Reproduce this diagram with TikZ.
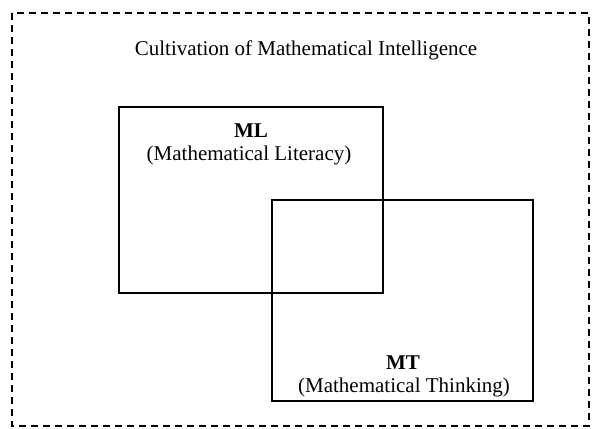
\documentclass[tikz,border=0pt]{standalone}
\usepackage{fontspec}
\setmainfont{Liberation Serif}
\usetikzlibrary{positioning}

\begin{document}
\begin{tikzpicture}[x=1pt, y=-1pt,
    area/.style={draw, line width=1.5pt, inner sep=0pt},
    every node/.style={font=\fontsize{21}{24}\selectfont}]
  \useasboundingbox (0,0) rectangle (593,428);
  % outer frame
  \draw[line width=1.6pt, dash pattern=on 7pt off 5pt] (12,13) rectangle (589,426);
  \node (title) at (306,50) {Cultivation of Mathematical Intelligence};
  % the two overlapping areas
  \node[area, minimum width=264pt, minimum height=186pt] (ml) at (251,200) {};
  \node[area, minimum width=261pt, minimum height=201pt] (mt) at (402.5,300.5) {};
  \node[font=\fontsize{21}{24}\selectfont\bfseries] (mlname) at (251,131) {ML};
  \node (mlfull) at (249,155) {(Mathematical Literacy)};
  \node[font=\fontsize{21}{24}\selectfont\bfseries] (mtname) at (403,363) {MT};
  \node (mtfull) at (404,387) {(Mathematical Thinking)};
\end{tikzpicture}
\end{document}
